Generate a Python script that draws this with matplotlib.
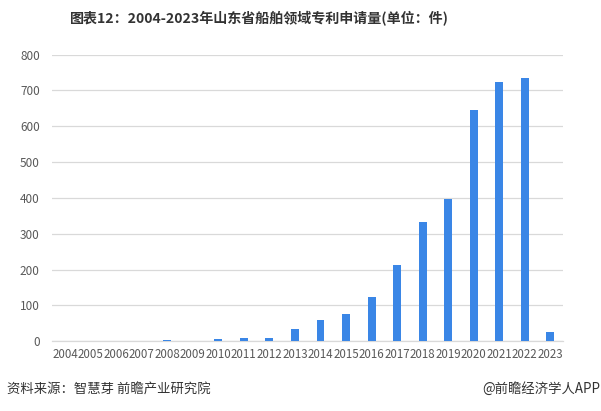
import matplotlib
matplotlib.use("Agg")
import matplotlib.pyplot as plt

plt.rcParams["font.family"] = ["Noto Sans CJK SC", "DejaVu Sans"]

years = [str(y) for y in range(2004, 2024)]
counts = [0, 0, 0, 0, 3, 0, 6, 9, 9, 34, 60, 77, 123, 212, 333, 397, 645, 723, 734, 25]
y_ticks = [0, 100, 200, 300, 400, 500, 600, 700, 800]

fig = plt.figure(figsize=(6.01, 4.11), dpi=100)
ax = fig.add_axes([0.087, 0.170, 0.850, 0.697])

x = range(len(years))
ax.bar(x, counts, width=0.31, color="#3a86e6", zorder=3)

ax.set_xlim(-0.5, len(years) - 0.5)
ax.set_ylim(0, 800)
ax.set_yticks(y_ticks)
ax.set_xticks(list(x))
ax.set_xticklabels(years, fontsize=8.3, color="#595959")
ax.tick_params(axis="y", labelsize=8.5, colors="#595959", length=0, pad=9)
ax.tick_params(axis="x", length=0, pad=5)
ax.grid(axis="y", color="#d9d9d9", linewidth=0.9, zorder=0)
for side in ["top", "right", "left"]:
    ax.spines[side].set_visible(False)
ax.spines["bottom"].set_color("#d9d9d9")
ax.spines["bottom"].set_linewidth(0.9)

fig.text(0.431, 0.955, "图表12：2004-2023年山东省船舶领域专利申请量(单位：件)",
         ha="center", va="center", fontsize=10.1, fontweight="bold", color="#333333")
fig.text(0.012, 0.053, "资料来源：智慧芽 前瞻产业研究院", ha="left", va="center",
         fontsize=9.6, color="#333333")
fig.text(0.998, 0.053, "@前瞻经济学人APP", ha="right", va="center",
         fontsize=9.6, color="#333333")

fig.savefig("out.png", dpi=100)
